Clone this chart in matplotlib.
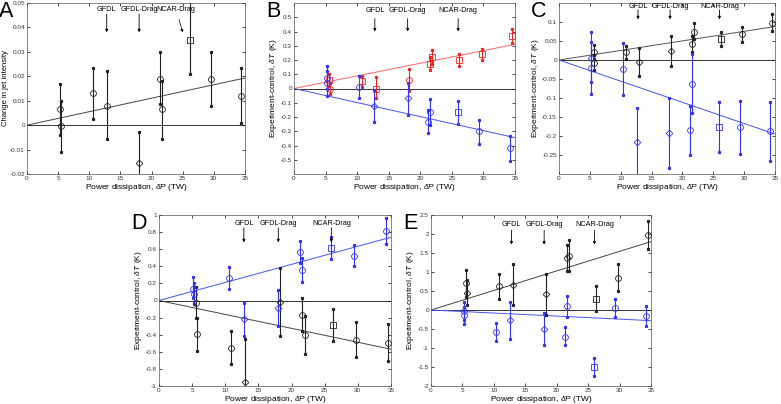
import matplotlib
matplotlib.use("Agg")
import matplotlib.pyplot as plt
import numpy as np
from matplotlib.ticker import FuncFormatter, MultipleLocator, FixedLocator

plt.rcParams['font.family'] = ['Liberation Sans', 'DejaVu Sans']
plt.rcParams['mathtext.fontset'] = 'custom'
plt.rcParams['mathtext.it'] = 'Liberation Sans:italic'
plt.rcParams['mathtext.rm'] = 'Liberation Sans'

# ---------------- data ----------------
# Panel A (black)
A_x  = [5.3, 5.4, 10.6, 12.8, 18.0, 21.4, 21.7, 26.2, 29.5, 34.3]
A_y  = [0.0065, -0.0005, 0.013, 0.008, -0.0155, 0.019, 0.0065, 0.035, 0.019, 0.012]
A_lo = [-0.004, -0.011, 0.0025, -0.0055, -0.028, 0.0085, -0.0055, 0.021, 0.008, 0.001]
A_hi = [0.017, 0.010, 0.0235, 0.022, -0.003, 0.030, 0.018, 0.052, 0.030, 0.0235]
A_mk = ['o', 'o', 'o', 'o', 'D', 'o', 'o', 's', 'o', 'o']
A_fit = 0.0193
A_yticks = [-0.02, -0.01, 0, 0.01, 0.02, 0.03, 0.04, 0.05]

# Panel B (red, blue)
B_red_x  = [5.6, 5.7, 10.8, 13.0, 18.2, 21.5, 21.9, 26.2, 29.7, 34.5]
B_red_y  = [0.06, 0.0, 0.05, 0.0, 0.06, 0.175, 0.22, 0.20, 0.24, 0.37]
B_red_lo = [0.02, -0.04, 0.01, -0.07, -0.02, 0.13, 0.17, 0.16, 0.20, 0.32]
B_red_hi = [0.10, 0.04, 0.09, 0.08, 0.14, 0.22, 0.27, 0.24, 0.28, 0.42]
B_red_mk = ['s', 'o', 's', 's', 'o', 's', 's', 's', 's', 's']
B_red_fit = 0.31
B_blue_x  = [5.2, 5.25, 10.3, 12.7, 18.0, 21.3, 21.5, 26.0, 29.3, 34.2]
B_blue_y  = [0.075, 0.04, 0.01, -0.12, -0.07, -0.235, -0.165, -0.165, -0.30, -0.42]
B_blue_lo = [0.0, -0.05, -0.07, -0.235, -0.185, -0.315, -0.255, -0.25, -0.39, -0.51]
B_blue_hi = [0.155, 0.12, 0.09, -0.01, 0.04, -0.15, -0.075, -0.09, -0.22, -0.33]
B_blue_mk = ['o', 'o', 'o', 'D', 'D', 'o', 'o', 's', 'o', 'o']
B_blue_fit = -0.345
B_yticks = [-0.5, -0.4, -0.3, -0.2, -0.1, 0, 0.1, 0.2, 0.3, 0.4, 0.5]

# Panel C (black, blue)
C_blk_x  = [5.6, 5.7, 10.8, 13.0, 18.2, 21.5, 21.9, 26.2, 29.7, 34.5]
C_blk_y  = [0.021, -0.008, 0.02, -0.005, 0.025, 0.042, 0.075, 0.054, 0.068, 0.097]
C_blk_lo = [0.002, -0.026, 0.002, -0.042, -0.015, 0.022, 0.054, 0.036, 0.048, 0.076]
C_blk_hi = [0.040, 0.012, 0.038, 0.032, 0.064, 0.062, 0.097, 0.073, 0.088, 0.120]
C_blk_mk = ['o', 'o', 'o', 'D', 'D', 'o', 'o', 's', 'o', 'o']
C_blk_fit = 0.088
C_blue_x  = [5.2, 5.25, 10.3, 12.6, 17.9, 21.3, 21.5, 26.0, 29.3, 34.2]
C_blue_y  = [-0.022, 0.005, -0.024, -0.215, -0.192, -0.185, -0.062, -0.176, -0.176, -0.188]
C_blue_lo = [-0.090, -0.058, -0.092, -0.32, -0.285, -0.25, -0.14, -0.243, -0.247, -0.265]
C_blue_hi = [0.048, 0.075, 0.045, -0.127, -0.100, -0.12, 0.016, -0.110, -0.107, -0.110]
C_blue_mk = ['o', 'D', 'o', 'D', 'D', 'o', 'o', 's', 'o', 'o']
C_blue_fit = -0.195
C_yticks = [-0.25, -0.2, -0.15, -0.1, -0.05, 0, 0.05, 0.1]

# Panel D (blue, black)
D_blue_x  = [5.2, 5.25, 10.5, 12.8, 17.9, 21.3, 21.6, 26.0, 29.4, 34.3]
D_blue_y  = [0.14, 0.08, 0.26, -0.22, -0.09, 0.57, 0.36, 0.61, 0.52, 0.81]
D_blue_lo = [0.03, -0.04, 0.13, -0.41, -0.30, 0.44, 0.22, 0.48, 0.40, 0.66]
D_blue_hi = [0.27, 0.20, 0.39, -0.03, 0.12, 0.70, 0.50, 0.74, 0.65, 0.96]
D_blue_mk = ['o', 'o', 'o', 'D', 'D', 'o', 'o', 's', 'o', 'o']
D_blue_fit = 0.74
D_blk_x  = [5.6, 5.7, 10.8, 13.0, 18.3, 21.6, 22.0, 26.3, 29.7, 34.5]
D_blk_y  = [-0.03, -0.39, -0.55, -0.95, -0.02, -0.17, -0.40, -0.29, -0.46, -0.50]
D_blk_lo = [-0.21, -0.59, -0.74, -1.2, -0.41, -0.36, -0.62, -0.47, -0.66, -0.71]
D_blk_hi = [0.16, -0.20, -0.36, -0.45, 0.38, 0.03, -0.18, -0.10, -0.25, -0.28]
D_blk_mk = ['o', 'o', 'o', 'D', 'D', 'o', 'o', 's', 'o', 'o']
D_blk_fit = -0.57
D_yticks = [-1, -0.8, -0.6, -0.4, -0.2, 0, 0.2, 0.4, 0.6, 0.8, 1]

# Panel E (black, blue)
E_blk_x  = [5.6, 5.7, 10.8, 13.0, 18.3, 21.6, 22.0, 26.3, 29.7, 34.5]
E_blk_y  = [0.70, 0.45, 0.62, 0.66, 0.42, 1.38, 1.43, 0.30, 0.85, 1.97]
E_blk_lo = [0.35, 0.13, 0.28, 0.12, -0.12, 1.03, 1.03, -0.03, 0.51, 1.60]
E_blk_hi = [1.05, 0.78, 0.96, 1.20, 0.95, 1.72, 1.83, 0.62, 1.20, 2.35]
E_blk_mk = ['o', 'D', 'o', 'D', 'D', 'o', 'o', 's', 'o', 'o']
E_blk_fit = 1.80
E_blue_x  = [5.2, 5.3, 10.4, 12.6, 17.9, 21.3, 21.6, 26.0, 29.3, 34.2]
E_blue_y  = [-0.03, -0.14, -0.58, -0.27, -0.50, -0.70, 0.10, -1.50, 0.05, -0.17]
E_blue_lo = [-0.25, -0.38, -0.82, -0.75, -0.93, -0.93, -0.18, -1.73, -0.18, -0.42]
E_blue_hi = [0.20, 0.09, -0.34, 0.22, -0.07, -0.46, 0.38, -1.27, 0.28, 0.10]
E_blue_mk = ['o', 'o', 'o', 'D', 'D', 'o', 'o', 's', 'o', 'o']
E_blue_fit = -0.28
E_yticks = [-2, -1.5, -1, -0.5, 0, 0.5, 1, 1.5, 2, 2.5]

x_ticks = [0, 5, 10, 15, 20, 25, 30, 35]
model_names = ['GFDL', 'GFDL-Drag', 'NCAR-Drag']
model_x = [12.8, 18.0, 26.0]

XLABEL = r'Power dissipation, $\delta P$ (TW)'
YLABEL_T = r'Experiment-control, $\delta T$ (K)'

BLACK = '#222222'
BLUE = '#3333ee'
RED = '#ee2222'
W, H = 781, 404


def fmt(v, pos):
    v = round(v, 4)
    if v == 0:
        return '0'
    return f'{v:g}'


def series(ax, x, y, lo, hi, mk, color, fitval, linecolor):
    ax.plot([0, 35], [0, fitval], color=linecolor, lw=0.7, zorder=2)
    for xi, yi, l, h, m in zip(x, y, lo, hi, mk):
        ax.plot([xi, xi], [l, h], color=color, lw=0.8, zorder=3)
        ax.plot([xi, xi], [l, h], ls='none', marker='s', ms=1.3,
                color=color, zorder=3)
        ms = 4.2 if m == 'o' else (3.4 if m == 'D' else 3.8)
        ax.plot([xi], [yi], marker=m, ms=ms, mfc='none', mec=color,
                mew=0.6, ls='none', zorder=4)


def setup(ax, ylim, yticks, ylabel, letter, left_px, top_px):
    ax.set_xlim(0, 35)
    ax.set_ylim(*ylim)
    ax.xaxis.set_major_locator(FixedLocator(x_ticks))
    ax.yaxis.set_major_locator(FixedLocator(yticks))
    ax.yaxis.set_major_formatter(FuncFormatter(fmt))
    ax.tick_params(direction='in', top=True, right=True, labelsize=4.6,
                   length=2.5, width=0.5, pad=1.5, labelcolor='#333333')
    for s in ax.spines.values():
        s.set_linewidth(0.5)
        s.set_color('#555555')
    ax.axhline(0, color='#333333', lw=0.7, zorder=1)
    ax.set_xlabel(XLABEL, fontsize=6, labelpad=1)
    ax.set_ylabel(ylabel, fontsize=6, labelpad=1)
    fig.text((left_px - 28) / W, 1 - (top_px - 2) / H, letter,
             fontsize=15.5, ha='left', va='top')


def arrows(ax, ytext, ytip, ystart, ncar_diag=False):
    for name, xm in zip(model_names, model_x):
        if ncar_diag and name == 'NCAR-Drag':
            ax.annotate(name, xy=(25.0, ytip), xytext=(23.9, ytext),
                        ha='center', va='center', fontsize=5.2,
                        arrowprops=dict(arrowstyle='-|>', color='black', lw=0.5,
                                        mutation_scale=4, shrinkA=3, shrinkB=0))
        else:
            ax.text(xm, ytext, name, ha='center', va='center', fontsize=5.2)
            ax.annotate('', xy=(xm, ytip), xytext=(xm, ystart),
                        arrowprops=dict(arrowstyle='-|>', color='black', lw=0.6,
                                        mutation_scale=4, shrinkA=0, shrinkB=0))


fig = plt.figure(figsize=(7.81, 4.04), dpi=100)


def add_axes(l, r, t, b):
    return fig.add_axes([l / W, 1 - b / H, (r - l) / W, (b - t) / H])


axA = add_axes(27, 245, 3, 174)
axB = add_axes(294, 515, 3, 174)
axC = add_axes(559, 775, 3, 174)
axD = add_axes(159, 391, 215, 386)
axE = add_axes(431, 651, 215, 386)

# A
setup(axA, (-0.02, 0.05), A_yticks, 'Change in jet intensity', 'A', 27, 3)
series(axA, A_x, A_y, A_lo, A_hi, A_mk, BLACK, A_fit, '#444444')
arrows(axA, 0.0475, 0.038, 0.0455, ncar_diag=True)
axA.yaxis.label.set_size(5.5)

# B
setup(axB, (-0.6, 0.6), B_yticks, YLABEL_T, 'B', 294, 3)
series(axB, B_red_x, B_red_y, B_red_lo, B_red_hi, B_red_mk, RED, B_red_fit, '#ff6666')
series(axB, B_blue_x, B_blue_y, B_blue_lo, B_blue_hi, B_blue_mk, BLUE, B_blue_fit, '#4455ee')
arrows(axB, 0.55, 0.4, 0.49)

# C
setup(axC, (-0.3, 0.15), C_yticks, YLABEL_T, 'C', 559, 3)
series(axC, C_blk_x, C_blk_y, C_blk_lo, C_blk_hi, C_blk_mk, BLACK, C_blk_fit, '#555555')
series(axC, C_blue_x, C_blue_y, C_blue_lo, C_blue_hi, C_blue_mk, BLUE, C_blue_fit, '#4455ee')
arrows(axC, 0.142, 0.107, 0.132)

# D
setup(axD, (-1.0, 1.0), D_yticks, YLABEL_T, 'D', 159, 215)
series(axD, D_blue_x, D_blue_y, D_blue_lo, D_blue_hi, D_blue_mk, BLUE, D_blue_fit, '#4455ee')
series(axD, D_blk_x, D_blk_y, D_blk_lo, D_blk_hi, D_blk_mk, BLACK, D_blk_fit, '#444444')
arrows(axD, 0.9, 0.68, 0.85)

# E
setup(axE, (-2.0, 2.5), E_yticks, YLABEL_T, 'E', 431, 215)
series(axE, E_blk_x, E_blk_y, E_blk_lo, E_blk_hi, E_blk_mk, BLACK, E_blk_fit, '#444444')
series(axE, E_blue_x, E_blue_y, E_blue_lo, E_blue_hi, E_blue_mk, BLUE, E_blue_fit, '#4455ee')
arrows(axE, 2.26, 1.72, 2.1)

fig.savefig('out.png', dpi=100)
